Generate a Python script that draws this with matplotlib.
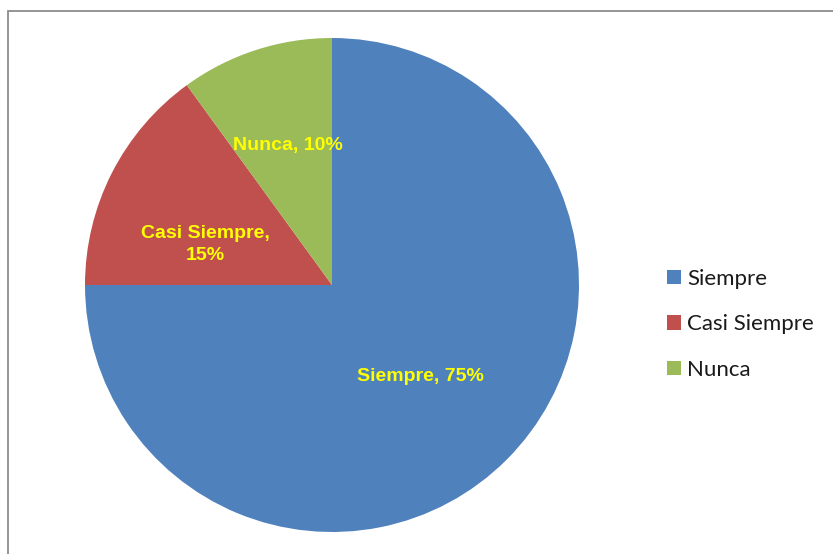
import numpy as np
import matplotlib
matplotlib.use("Agg")
import matplotlib.pyplot as plt
from matplotlib.patches import Rectangle

# chart data
categories = ["Siempre", "Casi Siempre", "Nunca"]
shares = [75, 15, 10]
colors = ["#4F81BD", "#C0504D", "#9BBB59"]
label_texts = ["Siempre, 75%", "Casi Siempre,\n15%", "Nunca, 10%"]


def draw_chart():
    W, H = 833, 554
    fig = plt.figure(figsize=(W / 100, H / 100), dpi=100)
    fig.patch.set_facecolor("white")

    # outer chart frame (only top/left edges are inside the picture)
    frame = Rectangle((7.5 / W, -0.1), 1.2, 1.1 - 10.5 / H,
                      transform=fig.transFigure, fill=False,
                      edgecolor="#8c8c8c", linewidth=1.3)
    fig.patches.append(frame)

    cx, cy, r = 332, 285, 247
    ax = fig.add_axes([(cx - r) / W, (H - cy - r) / H, 2 * r / W, 2 * r / H])
    wedges, _ = ax.pie(shares, colors=colors, startangle=90, counterclock=False,
                       radius=1.0, wedgeprops=dict(linewidth=0))
    ax.set_xlim(-1, 1)
    ax.set_ylim(-1, 1)
    ax.set_aspect("equal")
    ax.axis("off")

    # label placement: (radius fraction, angle shift) from each wedge's middle
    place = [(0.51, -0.5), (0.54, 8.5), (0.6, -0.5)]
    for w, txt, (frac, shift) in zip(wedges, label_texts, place):
        ang = np.deg2rad((w.theta1 + w.theta2) / 2 + shift)
        ax.text(frac * np.cos(ang), frac * np.sin(ang) - 0.008, txt,
                ha="center", va="center", color="#FFFF00",
                fontsize=14, fontweight="bold", family="Liberation Sans",
                linespacing=1.4)

    leg = fig.legend(wedges, categories, loc="center left",
                     bbox_to_anchor=(667 / W, 1 - 324.5 / H),
                     frameon=False, prop={"family": "Lato", "size": 16},
                     handlelength=0.62, handleheight=0.62,
                     handletextpad=0.3, labelspacing=1.15,
                     borderaxespad=0, borderpad=0)
    for t in leg.get_texts():
        t.set_color("#1a1a1a")

    fig.savefig("out.png", dpi=100, facecolor="white")


if __name__ == "__main__":
    draw_chart()
